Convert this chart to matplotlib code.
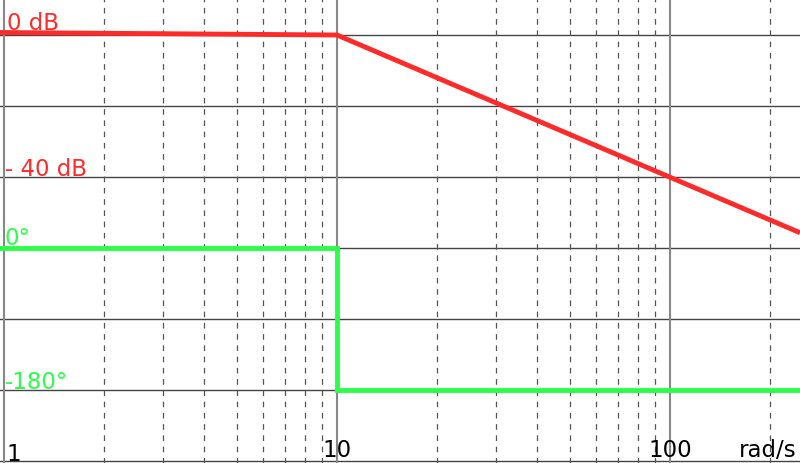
import matplotlib
matplotlib.use("Agg")
import matplotlib.pyplot as plt
import numpy as np

# ---- data ----
freq_mag = [0.973, 10, 246]          # rad/s
mag_db = [0.7, 0, -55.7]             # dB (asymptotic)
freq_phase = [0.973, 10, 10, 246]    # rad/s
phase_deg = [0, 0, -180, -180]       # degrees

major_x = [1, 10, 100]
minor_x = [2, 3, 4, 5, 6, 7, 8, 9, 20, 30, 40, 50, 60, 70, 80, 90, 200]
grid_db = [0, -20, -40, -60, -80, -100, -120]

x_labels = ["1", "10", "100"]
mag_labels = [("0 dB", 0, 1.6, 1.02), ("- 40 dB", -40, 0.6, 1.005)]
phase_labels = [("0°", 0, 5.5), ("-180°", -180, 2.5)]

RED = "#ff2a2a"
GREEN = "#2cff4a"

fig = plt.figure(figsize=(8, 4.64), dpi=100)
ax = fig.add_axes([0, 0, 1, 1])
ax.set_xscale("log")
ax.set_xlim(0.973, 246)
ax.set_ylim(-120.56, 10.14)
for s in ax.spines.values():
    s.set_visible(False)
ax.set_xticks([])
ax.set_yticks([])
ax.minorticks_off()

for y in grid_db:
    ax.axhline(y, color="#444444", lw=1.0, zorder=1)
for x in major_x:
    ax.axvline(x, color="#888888", lw=1.5, zorder=1)
for x in minor_x:
    ax.axvline(x, color="#555555", lw=0.9, ls=(0, (4.5, 4.5)), zorder=1)

ax.plot(freq_mag, mag_db, color=RED, lw=3.5, solid_capstyle="butt", zorder=3)

ax2 = ax.twinx()
ax2.set_position([0, 0, 1, 1])
ax2.set_ylim(-272.5, 315.6)
ax2.set_xlim(0.973, 246)
for s in ax2.spines.values():
    s.set_visible(False)
ax2.set_yticks([])
ax2.plot(freq_phase, phase_deg, color=GREEN, lw=3.5, solid_joinstyle="miter", zorder=3)

fs = 16.5
for txt, v, dy, x0 in mag_labels:
    ax.text(x0, v + dy, txt, color=RED, fontsize=fs, ha="left", va="baseline", zorder=4)
for txt, v, dy in phase_labels:
    ax2.text(1.005, v + dy, txt, color=GREEN, fontsize=fs, ha="left", va="baseline", zorder=4)

ax.text(1.015, -119.6, x_labels[0], color="black", fontsize=fs, ha="left", va="baseline")
ax.text(10, -118.7, x_labels[1], color="black", fontsize=fs, ha="center", va="baseline")
ax.text(100, -118.7, x_labels[2], color="black", fontsize=fs, ha="center", va="baseline")
ax.text(240, -118.7, "rad/s", color="black", fontsize=fs, ha="right", va="baseline")

fig.savefig("out.png", dpi=100)
